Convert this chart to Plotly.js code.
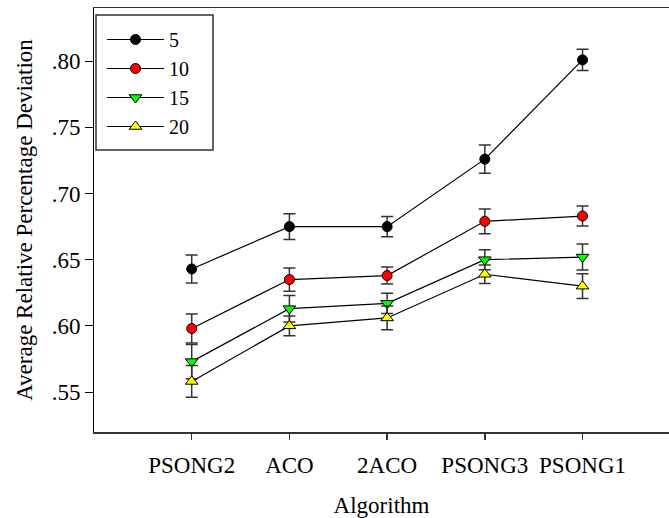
<!DOCTYPE html>
<html>
<head>
<meta charset="utf-8">
<script src="https://cdn.plot.ly/plotly-3.0.1.min.js"></script>
<style>html,body{margin:0;padding:0;background:#fff;}#chart{width:669px;height:518px;}</style>
</head>
<body>
<div id="chart"></div>
<script>
const categories = ["PSONG2", "ACO", "2ACO", "PSONG3", "PSONG1"];
const catPositions = [1, 2, 3, 4, 5];
const seriesNames = ["5", "10", "15", "20"];
const values5  = [0.643, 0.675, 0.675, 0.726, 0.801];
const values10 = [0.598, 0.635, 0.638, 0.679, 0.683];
const values15 = [0.573, 0.613, 0.617, 0.650, 0.652];
const values20 = [0.558, 0.600, 0.606, 0.639, 0.630];
const err5  = [0.0106, 0.0098, 0.0076, 0.0107, 0.0080];
const err10 = [0.0110, 0.0088, 0.0064, 0.0094, 0.0075];
const err15 = [0.0130, 0.0100, 0.0076, 0.0076, 0.0098];
const err20 = [0.0120, 0.0075, 0.0090, 0.0070, 0.0094];
const yTickVals = [0.55, 0.60, 0.65, 0.70, 0.75, 0.80];
const yTickText = [".55", ".60", ".65", ".70", ".75", ".80"];

const FONT = "Liberation Serif";
const W = 669, H = 518, ML = 94, MT = 8, MB = 86;
const PW = W - ML, PH = H - MT - MB;
const styles = [
  {color: "#000000", symbol: "circle", size: 10},
  {color: "#ff0000", symbol: "circle", size: 10},
  {color: "#00ff00", symbol: "triangle-down", size: 11},
  {color: "#ffff00", symbol: "triangle-up", size: 11}
];
const allVals = [values5, values10, values15, values20];
const allErr = [err5, err10, err15, err20];

const traces = allVals.map((vals, i) => ({
  type: "scatter",
  mode: "lines+markers",
  name: seriesNames[i],
  x: catPositions,
  y: vals,
  line: {color: "#000000", width: 1.2},
  marker: {color: styles[i].color, symbol: styles[i].symbol, size: styles[i].size,
           line: {color: "#000000", width: 1}},
  error_y: {type: "data", array: allErr[i], visible: true, color: "#333333", thickness: 1.5, width: 6}
}));

// pixel -> paper helpers for legend placement
const px = x => (x - ML) / PW;
const py = y => 1 - (y - MT) / PH;

const layout = {
  width: W, height: H,
  margin: {l: ML, r: 0, t: MT, b: MB, pad: 0},
  paper_bgcolor: "#ffffff", plot_bgcolor: "#ffffff",
  font: {family: FONT, size: 23, color: "#000000"},
  showlegend: true,
  legend: {
    x: px(102), y: py(20), xanchor: "left", yanchor: "top",
    borderwidth: 0, bgcolor: "rgba(0,0,0,0)",
    font: {family: FONT, size: 20, color: "#000000"},
    tracegroupgap: 0, itemwidth: 57
  },
  shapes: [{
    type: "rect", xref: "paper", yref: "paper", layer: "above",
    x0: px(96), x1: px(213), y0: py(150), y1: py(15),
    line: {color: "#333333", width: 1.5}, fillcolor: "#ffffff"
  }],
  xaxis: {
    range: [0, 5.885], autorange: false,
    tickvals: catPositions, ticktext: categories,
    ticks: "outside", ticklen: 6, tickcolor: "#333333", tickwidth: 1.5,
    showline: true, linecolor: "#333333", linewidth: 1.5, mirror: true,
    showgrid: false, zeroline: false, ticklabelstandoff: 6,
    tickfont: {family: FONT, size: 23},
    title: {text: "Algorithm", font: {family: FONT, size: 23}, standoff: 20}
  },
  yaxis: {
    range: [0.5198, 0.8402], autorange: false,
    tickvals: yTickVals, ticktext: yTickText,
    ticks: "outside", ticklen: 8, tickcolor: "#000000", tickwidth: 1,
    showline: true, linecolor: "#000000", linewidth: 1, mirror: false,
    showgrid: false, zeroline: false,
    tickfont: {family: FONT, size: 23},
    title: {text: "Average Relative Percentage Deviation", font: {family: FONT, size: 23}, standoff: 12}
  }
};

Plotly.newPlot("chart", traces, layout, {displayModeBar: false, staticPlot: true});
</script>
</body>
</html>
